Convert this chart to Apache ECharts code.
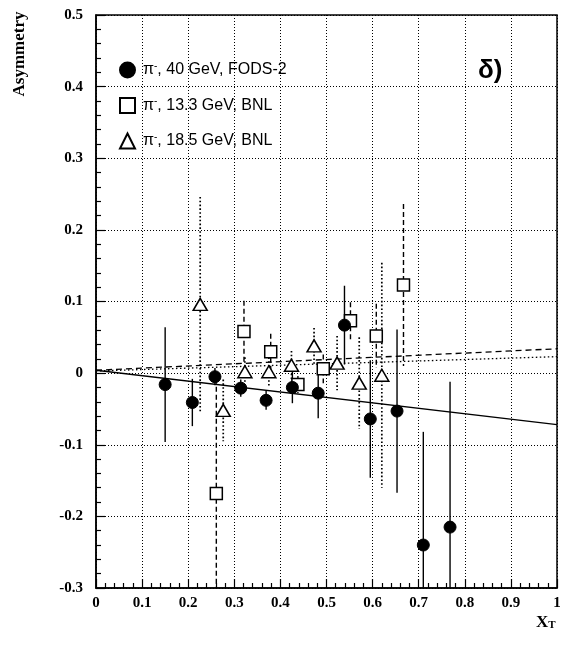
<!DOCTYPE html>
<html>
<head>
<meta charset="utf-8">
<script src="https://cdn.jsdelivr.net/npm/echarts@6/dist/echarts.min.js"></script>
<style>html,body{margin:0;padding:0;background:#fff}#c{width:564px;height:648px}</style>
</head>
<body>
<div id="c"></div>
<script>
// FODS-2, pi-, 40 GeV (filled circles, solid errors)
const fodsX = [0.150, 0.209, 0.258, 0.314, 0.369, 0.426, 0.482, 0.539, 0.595, 0.653, 0.710, 0.768];
const fodsY = [-0.016, -0.041, -0.005, -0.021, -0.038, -0.020, -0.028, 0.067, -0.064, -0.053, -0.240, -0.215];
const fodsE = [0.080, 0.033, 0.012, 0.012, 0.013, 0.022, 0.035, 0.055, 0.082, 0.114, 0.158, 0.203];
// BNL pi-, 13.3 GeV (open squares, dashed errors)
const bnl13X = [0.261, 0.321, 0.379, 0.438, 0.493, 0.552, 0.608, 0.667];
const bnl13Y = [-0.168, 0.058, 0.030, -0.016, 0.006, 0.073, 0.052, 0.123];
const bnl13E = [0.160, 0.043, 0.025, 0.012, 0.020, 0.026, 0.045, 0.113];
// BNL pi-, 18.5 GeV (open triangles, dotted errors)
const bnl18X = [0.226, 0.276, 0.323, 0.375, 0.424, 0.473, 0.523, 0.571, 0.620];
const bnl18Y = [0.096, -0.052, 0.002, 0.002, 0.011, 0.038, 0.014, -0.014, -0.003];
const bnl18E = [0.150, 0.043, 0.020, 0.020, 0.020, 0.025, 0.038, 0.064, 0.157];
// fit lines (endpoints at x = 0 and x = 1)
const fitX = [0, 1];
const fitFods = [0.004, -0.072];
const fit13 = [0.004, 0.034];
const fit18 = [0.003, 0.023];
const names = ['π-, 40 GeV, FODS-2', 'π-, 13.3 GeV, BNL', 'π-, 18.5 GeV, BNL'];
const xTicks = [0, 0.1, 0.2, 0.3, 0.4, 0.5, 0.6, 0.7, 0.8, 0.9, 1];
const yTicks = [-0.3, -0.2, -0.1, 0, 0.1, 0.2, 0.3, 0.4, 0.5];

const zip3 = (a, b, c) => a.map((v, i) => [v, b[i], c[i]]);
const zip2 = (a, b) => a.map((v, i) => [v, b[i]]);
const YMIN = -0.3, YMAX = 0.5;

function errSeries(data, dash, w) {
  return {
    type: 'custom', data: data, clip: true, z: 2, silent: true,
    renderItem: function (params, api) {
      const x = api.value(0), y = api.value(1), e = api.value(2);
      const p1 = api.coord([x, Math.min(YMAX, y + e)]);
      const p2 = api.coord([x, Math.max(YMIN, y - e)]);
      return { type: 'line', shape: { x1: p1[0], y1: p1[1], x2: p2[0], y2: p2[1] },
        style: { stroke: '#000', lineWidth: w, lineDash: dash } };
    }
  };
}
function fitSeries(vals, dash) {
  return { type: 'line', data: zip2(fitX, vals), symbol: 'none', z: 1, silent: true,
    lineStyle: { color: '#000', width: 1.3, type: dash } };
}

const fmtNum = v => {
  const t = xTicks.concat(yTicks).find(k => Math.abs(k - v) < 1e-9);
  if (t === undefined) return '';
  return (Math.abs(t) < 1e-9) ? '0' : String(+t.toFixed(1));
};

const axisCommon = {
  axisLine: { show: true, onZero: false, lineStyle: { color: '#000', width: 1.5 } },
  axisTick: { show: true, inside: true, length: 9, lineStyle: { color: '#000', width: 1.2 } },
  minorTick: { show: true, splitNumber: 5, length: 5, lineStyle: { color: '#000', width: 1.2 } },
  splitLine: { show: true, lineStyle: { color: '#000', width: 1, type: [1, 2] } },
  minorSplitLine: { show: false }
};

const chart = echarts.init(document.getElementById('c'), null, { renderer: 'canvas' });
chart.setOption({
  animation: false,
  backgroundColor: '#fff',
  grid: { left: 96, right: 7, top: 15, bottom: 60, show: true, borderColor: '#000', borderWidth: 1.5, backgroundColor: 'transparent' },
  xAxis: Object.assign({
    type: 'value', min: 0, max: 1, interval: 0.1,
    axisLabel: { formatter: fmtNum, color: '#000', fontFamily: 'Liberation Serif', fontWeight: 'bold', fontSize: 15, margin: 8 }
  }, axisCommon),
  yAxis: Object.assign({
    type: 'value', min: -0.3, max: 0.5, interval: 0.1,
    axisLabel: { formatter: fmtNum, color: '#000', fontFamily: 'Liberation Serif', fontWeight: 'bold', fontSize: 15, margin: 13 }
  }, axisCommon),
  legend: {
    orient: 'vertical', left: 114, top: 56, itemWidth: 15, itemHeight: 15, itemGap: 18,
    selectedMode: false,
    data: names,
    formatter: function (n) {
      const rest = n.slice(2);
      return '{p|π}{s|-}{t|' + rest + '}';
    },
    textStyle: {
      color: '#000',
      rich: {
        p: { fontFamily: 'Liberation Sans', fontSize: 16, color: '#000', padding: [0, 0, 0, 3] },
        s: { fontFamily: 'Liberation Sans', fontSize: 10, color: '#000', verticalAlign: 'top', padding: [0, 0, 8, 0] },
        t: { fontFamily: 'Liberation Sans', fontSize: 16, color: '#000' }
      }
    }
  },
  graphic: [
    { type: 'text', left: 478, top: 58, style: { text: 'δ)', font: 'bold 26px "Liberation Sans"', fill: '#000' } },
    { type: 'text', x: 20, y: 54, rotation: Math.PI / 2,
      style: { text: 'Asymmetry', font: 'bold 17px "Liberation Serif"', fill: '#000', textAlign: 'center', textVerticalAlign: 'middle' } },
    { type: 'text', left: 536, top: 614,
      style: { text: '{a|X}{b|T}', fill: '#000',
        rich: { a: { font: 'bold 17px "Liberation Serif"', fill: '#000' },
                b: { font: 'bold 11px "Liberation Serif"', fill: '#000', verticalAlign: 'bottom', padding: [6, 0, 0, 0] } } } }
  ],
  series: [
    fitSeries(fitFods, 'solid'),
    fitSeries(fit13, [6, 4]),
    fitSeries(fit18, [1.5, 2.5]),
    errSeries(zip3(fodsX, fodsY, fodsE), null, 1.4),
    errSeries(zip3(bnl13X, bnl13Y, bnl13E), [5, 3], 1.4),
    errSeries(zip3(bnl18X, bnl18Y, bnl18E), [1.6, 2.2], 1.7),
    { name: names[0], type: 'scatter', data: zip2(fodsX, fodsY), symbol: 'circle', symbolSize: 12, z: 5,
      itemStyle: { color: '#000', borderColor: '#000', borderWidth: 1, opacity: 1 } },
    { name: names[1], type: 'scatter', data: zip2(bnl13X, bnl13Y), symbol: 'rect', symbolSize: 12, z: 4,
      itemStyle: { color: '#fff', borderColor: '#000', borderWidth: 1.5, opacity: 1 } },
    { name: names[2], type: 'scatter', data: zip2(bnl18X, bnl18Y), symbol: 'triangle', symbolSize: [14, 12], z: 4,
      itemStyle: { color: '#fff', borderColor: '#000', borderWidth: 1.5, opacity: 1 } }
  ]
});
</script>
</body>
</html>
